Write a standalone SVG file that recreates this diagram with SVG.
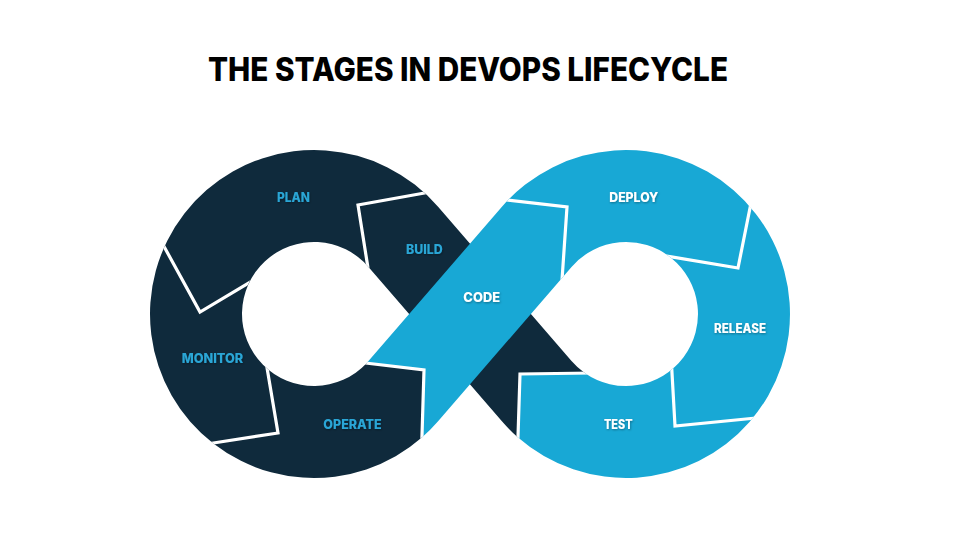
<svg xmlns="http://www.w3.org/2000/svg" width="960" height="540" viewBox="0 0 960 540">
  <defs>
    <style>
      .dark { fill: #0f2a3c; }
      .light { fill: #18a8d5; }
      .sep { fill: none; stroke: #ffffff; stroke-width: 3.2; stroke-linejoin: miter; stroke-linecap: butt; }
      .lbl { font-family: "Inter", "Liberation Sans", sans-serif; font-weight: 800; font-size: 13px; text-anchor: middle; }
      .onDark { fill: #2aa6d6; }
      .onLight { fill: #ffffff; }
      .title { font-family: "Inter", "Liberation Sans", sans-serif; font-weight: 800; font-size: 32px; fill: #000000; }
    </style>
    <filter id="shadow" x="-20%" y="-40%" width="140%" height="180%">
      <feDropShadow dx="0.6" dy="1" stdDeviation="0.9" flood-color="#000000" flood-opacity="0.35"/>
    </filter>
    <path id="darkShape" d="M368.47,266.91 L501.93,421.26 A164,164 0 0,0 517.76,437.21 L520,374 L584.7,373 A72,72 0 0,1 571.53,361.09 L438.07,206.74 A164,164 0 1,0 421.86,437.54 L424,370 L366.58,363.19 A72,72 0 1,1 368.47,266.91 Z"/>
    <path id="lightShape" d="M501.93,206.74 A164,164 0 1,1 517.76,437.21 L520,374 L584.7,373 A72,72 0 1,0 571.53,266.91 L438.07,421.26 A164,164 0 0,1 421.86,437.54 L424,370 L366.58,363.19 A72,72 0 0,0 368.47,361.09 Z"/>
    <clipPath id="clipAll">
      <use href="#darkShape"/>
      <use href="#lightShape"/>
    </clipPath>
  </defs>

  <rect width="960" height="540" fill="#ffffff"/>

  <text class="title" x="208" y="81" textLength="520" lengthAdjust="spacingAndGlyphs">THE STAGES IN DEVOPS LIFECYCLE</text>

  <g id="infinity">
    <use href="#darkShape" class="dark"/>
    <use href="#lightShape" class="light"/>
  </g>

  <g id="connectors" clip-path="url(#clipAll)">
    <polyline class="sep" points="432.9,191.5 358,205 368,268"/>
    <polyline class="sep" points="161,241 200,312 257,278"/>
    <polyline class="sep" points="207,444 278,433 265.7,360"/>
    <polyline class="sep" points="357,362 424,370 421.7,445"/>
    <polyline class="sep" points="499,199 567,207 562,280"/>
    <polyline class="sep" points="751.6,200 738,268 664,255.7"/>
    <polyline class="sep" points="756,418 675,426 671.5,364"/>
    <polyline class="sep" points="517.7,446 520,374 593,373"/>
  </g>

  <g id="plan"><text class="lbl onDark" filter="url(#shadow)" x="293.5" y="201.7" textLength="33" lengthAdjust="spacingAndGlyphs">PLAN</text></g>
  <g id="build"><text class="lbl onDark" filter="url(#shadow)" x="424.3" y="254.2" textLength="36.7" lengthAdjust="spacingAndGlyphs">BUILD</text></g>
  <g id="monitor"><text class="lbl onDark" filter="url(#shadow)" x="212.5" y="362.6" textLength="61.6" lengthAdjust="spacingAndGlyphs">MONITOR</text></g>
  <g id="operate"><text class="lbl onDark" filter="url(#shadow)" x="352.5" y="429.2" textLength="58.4" lengthAdjust="spacingAndGlyphs">OPERATE</text></g>
  <g id="code"><text class="lbl onLight" filter="url(#shadow)" x="481.7" y="302" textLength="36.7" lengthAdjust="spacingAndGlyphs">CODE</text></g>
  <g id="deploy"><text class="lbl onLight" filter="url(#shadow)" x="633.8" y="201.7" textLength="49" lengthAdjust="spacingAndGlyphs">DEPLOY</text></g>
  <g id="release"><text class="lbl onLight" filter="url(#shadow)" x="740" y="333.3" textLength="52" lengthAdjust="spacingAndGlyphs">RELEASE</text></g>
  <g id="test"><text class="lbl onLight" filter="url(#shadow)" x="618.3" y="429" textLength="28.7" lengthAdjust="spacingAndGlyphs">TEST</text></g>
</svg>
